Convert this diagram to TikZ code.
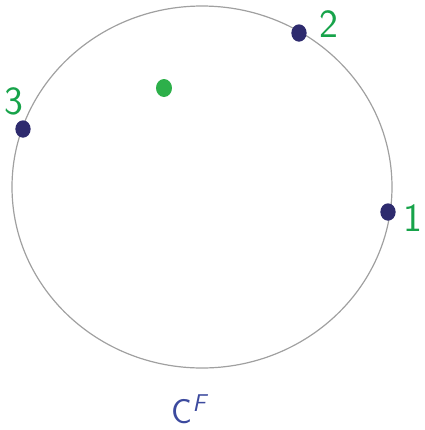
\documentclass[tikz,border=0pt]{standalone}
\usepackage{fontspec}
\usetikzlibrary{shapes.geometric}
\definecolor{navy}{HTML}{2E2B6E}
\definecolor{lblgreen}{HTML}{17A34A}
\definecolor{dotgreen}{HTML}{2DB04A}
\definecolor{cfblue}{HTML}{3C4A9E}
\definecolor{rim}{HTML}{A0A0A0}
\begin{document}
\begin{tikzpicture}[x=0.75pt,y=-0.75pt,
  pt/.style={ellipse,fill=navy,inner sep=0pt,minimum width=11.5pt,minimum height=13pt},
  gpt/.style={ellipse,fill=dotgreen,inner sep=0pt,minimum width=12pt,minimum height=13.5pt},
  lbl/.style={text=lblgreen,font=\sffamily\fontsize{30}{34}\selectfont,inner sep=0pt}]
\useasboundingbox (0,0) rectangle (425,430);
\draw[rim,line width=0.9pt] (202,187) ellipse[x radius=190, y radius=181];
\node[pt] (p1) at (388,212) {};
\node[pt] (p2) at (299,33) {};
\node[pt] (p3) at (23,129) {};
\node[gpt] (g) at (164,88) {};
\node[lbl] (l1) at (413,218) {1};
\node[lbl] (l2) at (329,24) {2};
\node[lbl] (l3) at (14,101) {3};
\node[text=cfblue,font=\sffamily\fontsize{26}{30}\selectfont,inner sep=0pt] (cf) at (189,409) {C\textsuperscript{\itshape F}};
\end{tikzpicture}
\end{document}
